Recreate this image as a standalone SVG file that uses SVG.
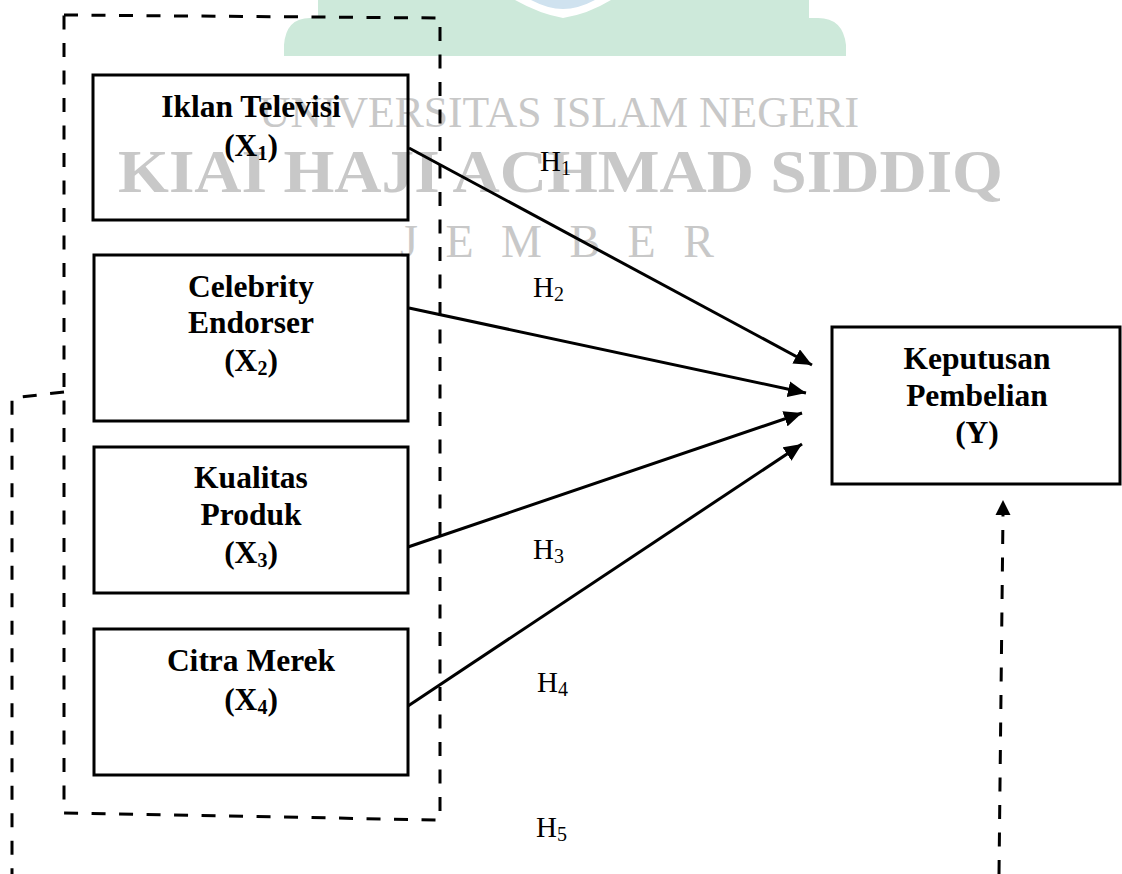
<svg xmlns="http://www.w3.org/2000/svg" width="1122" height="874" viewBox="0 0 1122 874">
<defs>
<style>
.box{fill:none;stroke:#000;stroke-width:3}
.lbl{font-family:"Liberation Serif","Times New Roman",serif;font-weight:bold;font-size:31.5px;fill:#000;text-anchor:middle}
.h{font-family:"Liberation Serif","Times New Roman",serif;font-size:29px;fill:#000}
.sub{font-size:20px}
.conn{fill:none;stroke:#000;stroke-width:3}
.dash{fill:none;stroke:#000;stroke-width:3;stroke-dasharray:14 13.5}
.wm{font-family:"Liberation Serif","Times New Roman",serif;fill:#c8c8c8}
</style>
<marker id="arr" markerUnits="userSpaceOnUse" markerWidth="20" markerHeight="16" refX="18" refY="8" orient="auto">
<path d="M0,0 L18,8 L0,16 Z" fill="#000"/>
</marker>
</defs>
<rect width="1122" height="874" fill="#fff"/>
<g id="watermark">
<path d="M284,56 V45 Q286,18 310,18 H318 V0 H809 V18 H818 Q843,18 846,45 V56 Z" fill="#cde9da"/>
<path d="M515,0 Q540,14 563,18 Q588,14 611,0 Z" fill="#fff"/>
<path d="M531,0 Q548,9 563,9 Q578,9 595,0 Z" fill="#cfe2ef"/>
<text class="wm" x="259" y="127" font-size="45" textLength="600" lengthAdjust="spacingAndGlyphs">UNIVERSITAS ISLAM NEGERI</text>
<text class="wm" x="118" y="192" font-size="62" font-weight="bold" textLength="885" lengthAdjust="spacingAndGlyphs">KIAI HAJI ACHMAD SIDDIQ</text>
<text class="wm" x="400" y="257" font-size="46" letter-spacing="8">J E M B E R</text>
</g>
<g id="group-x" >
<path class="dash" d="M64,15 L440,18 L440,820 L64,813 Z"/>
</g>
<g id="x1">
<rect class="box" x="93" y="75" width="315" height="145"/>
<text class="lbl" x="251" y="117">Iklan Televisi</text>
<text class="lbl" x="251" y="156">(X<tspan class="sub" dy="4">1</tspan><tspan dy="-4">)</tspan></text>
</g>
<g id="x2">
<rect class="box" x="94" y="255" width="314" height="166"/>
<text class="lbl" x="251" y="297">Celebrity</text>
<text class="lbl" x="251" y="333">Endorser</text>
<text class="lbl" x="251" y="371">(X<tspan class="sub" dy="4">2</tspan><tspan dy="-4">)</tspan></text>
</g>
<g id="x3">
<rect class="box" x="94" y="447" width="314" height="146"/>
<text class="lbl" x="251" y="488">Kualitas</text>
<text class="lbl" x="251" y="525">Produk</text>
<text class="lbl" x="251" y="563">(X<tspan class="sub" dy="4">3</tspan><tspan dy="-4">)</tspan></text>
</g>
<g id="x4">
<rect class="box" x="94" y="629" width="314" height="146"/>
<text class="lbl" x="251" y="671">Citra Merek</text>
<text class="lbl" x="251" y="710">(X<tspan class="sub" dy="4">4</tspan><tspan dy="-4">)</tspan></text>
</g>
<g id="y">
<rect class="box" x="832" y="327" width="288" height="157"/>
<text class="lbl" x="977" y="369">Keputusan</text>
<text class="lbl" x="977" y="406">Pembelian</text>
<text class="lbl" x="977" y="443">(Y)</text>
</g>
<g id="connectors">
<line class="conn" x1="409" y1="148" x2="812" y2="365" marker-end="url(#arr)"/>
<line class="conn" x1="409" y1="308" x2="806" y2="393" marker-end="url(#arr)"/>
<line class="conn" x1="408" y1="547" x2="802" y2="413" marker-end="url(#arr)"/>
<line class="conn" x1="408" y1="706" x2="802" y2="444" marker-end="url(#arr)"/>
<path class="dash" d="M64,392 L12,398 L12,874"/>
<path class="dash" d="M999,874 L1003,514"/>
<path d="M995.5,515 L1003,500 L1010.5,515 Z" fill="#000"/>
</g>
<g id="labels">
<text class="h" x="540" y="171">H<tspan class="sub" dy="4">1</tspan></text>
<text class="h" x="533" y="297">H<tspan class="sub" dy="4">2</tspan></text>
<text class="h" x="533" y="559">H<tspan class="sub" dy="4">3</tspan></text>
<text class="h" x="537" y="692">H<tspan class="sub" dy="4">4</tspan></text>
<text class="h" x="536" y="837">H<tspan class="sub" dy="4">5</tspan></text>
</g>
</svg>
